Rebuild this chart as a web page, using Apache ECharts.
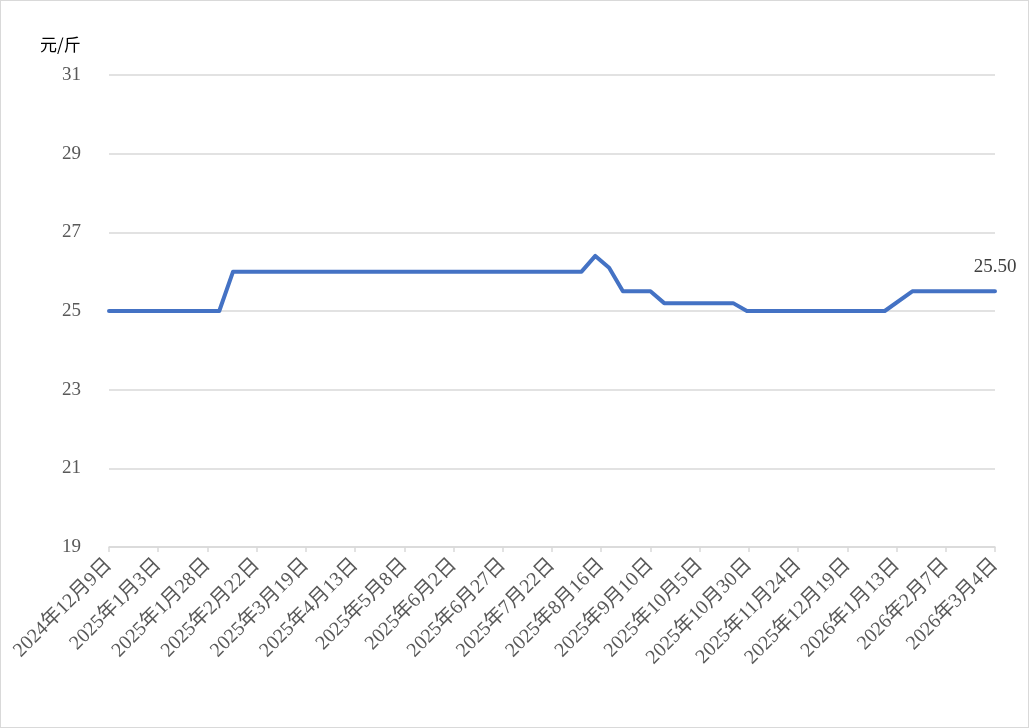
<!DOCTYPE html>
<html>
<head>
<meta charset="utf-8">
<script src="https://cdn.jsdelivr.net/npm/echarts@6/dist/echarts.min.js"></script>
<style>
html,body{margin:0;padding:0;background:#fff;}
#wrap{position:relative;width:1029px;height:728px;box-sizing:border-box;border:1px solid #d9d9d9;}
#chart{position:absolute;left:-1px;top:-1px;width:1029px;height:728px;}
</style>
</head>
<body>
<div id="wrap"><div id="chart"></div></div>
<script>
// Data
const startDate = '2024-12-09';
const dates = ['2024-12-09','2025-02-03','2025-02-10','2025-08-06','2025-08-13','2025-08-20','2025-08-27','2025-09-10','2025-09-17','2025-10-22','2025-10-29','2026-01-07','2026-01-21','2026-03-04'];
const values = [25, 25, 26, 26, 26.4, 26.1, 25.5, 25.5, 25.2, 25.2, 25, 25, 25.5, 25.5];
const yTicks = [19, 21, 23, 25, 27, 29, 31];
const unitLabel = '元/斤';
const tickStepDays = 25;
const spanDays = 450;

const DAY = 86400000;
const t0 = Date.UTC(2024, 11, 9);
function dayOffset(s){
  const p = s.split('-').map(Number);
  return Math.round((Date.UTC(p[0], p[1]-1, p[2]) - t0) / DAY);
}
function fmtDate(v){
  const d = new Date(t0 + v * DAY);
  return d.getUTCFullYear() + '年' + (d.getUTCMonth()+1) + '月' + d.getUTCDate() + '日';
}
const seriesData = dates.map((d, i) => [dayOffset(d), values[i]]);
const lastIdx = seriesData.length - 1;

const serif = "'Liberation Serif','DejaVu Serif','Noto Sans CJK SC',serif";
const chart = echarts.init(document.getElementById('chart'), null, {renderer: 'canvas'});
chart.setOption({
  animation: false,
  backgroundColor: 'transparent',
  grid: {left: 109, right: 34, top: 75, bottom: 181, containLabel: false},
  graphic: [{
    type: 'text', left: 40, top: 36,
    style: {text: unitLabel, font: "17px 'Noto Sans CJK SC', sans-serif", fill: '#000'}
  }],
  xAxis: {
    type: 'value',
    min: 0, max: spanDays, interval: tickStepDays,
    axisLine: {show: true, lineStyle: {color: '#d9d9d9', width: 1.5}},
    axisTick: {show: true, length: 5, lineStyle: {color: '#d9d9d9', width: 1.5}},
    splitLine: {show: false},
    axisLabel: {
      rotate: 45, margin: 15, color: '#595959', fontSize: 20, fontFamily: serif,
      showMinLabel: true, showMaxLabel: true,
      formatter: v => fmtDate(v)
    }
  },
  yAxis: {
    type: 'value',
    min: yTicks[0], max: yTicks[yTicks.length-1], interval: 2,
    axisLine: {show: false},
    axisTick: {show: false},
    splitLine: {show: true, lineStyle: {color: '#d9d9d9', width: 1.5}},
    axisLabel: {margin: 28, color: '#595959', fontSize: 19, fontFamily: serif}
  },
  series: [{
    type: 'line',
    data: seriesData,
    showSymbol: true,
    symbol: 'circle',
    symbolSize: 1,
    lineStyle: {color: '#4472C4', width: 4, join: 'round', cap: 'round'},
    itemStyle: {color: '#4472C4'},
    label: {
      show: true, position: 'top', distance: 14,
      color: '#404040', fontSize: 19, fontFamily: serif,
      formatter: p => p.dataIndex === lastIdx ? p.value[1].toFixed(2) : ''
    }
  }]
});
</script>
</body>
</html>
